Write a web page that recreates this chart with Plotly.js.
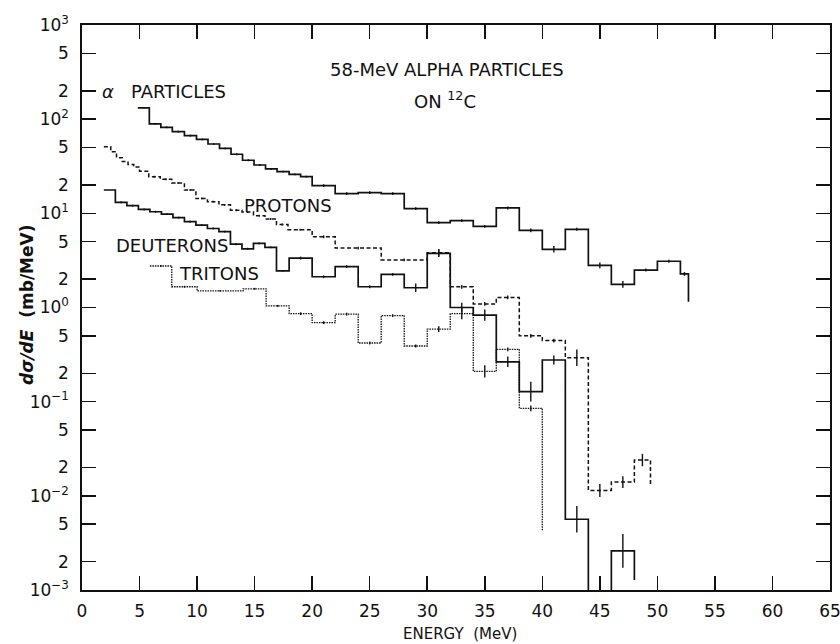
<!DOCTYPE html>
<html>
<head>
<meta charset="utf-8">
<script src="https://cdn.plot.ly/plotly-3.0.1.min.js"></script>
<style>html,body{margin:0;padding:0;background:#fff;}#chart{width:840px;height:644px;}</style>
</head>
<body>
<div id="chart"></div>
<script>
// ---- Data (bin edges in MeV, values in mb/MeV) ----
const alphaEdges = [4.85,5.85,6.85,7.85,8.9,9.95,10.95,11.95,12.95,13.95,14.95,15.95,16.95,18,19,20,22,24,26,28,30,32,34,36,38,40,42,44,46,48,50,52,52.7];
const alphaValues = [132,89,82,73.6,66.8,61,54.5,49,42.4,36.6,32.6,29.6,27.7,25.9,24.5,19.7,16.2,16.6,16.2,11.2,7.96,8.35,7.28,11.4,6.6,4.15,6.77,2.8,1.76,2.5,3.1,2.27];
const alphaEnd = 1.15;
const alphaErr = [0,0.01,0.01,0.01,0.01,0.01,0.01,0.01,0.01,0.01,0.01,0.01,0.01,0.01,0.01,0.015,0.015,0.015,0.015,0.015,0.015,0.015,0.015,0.015,0.02,0.035,0.015,0.03,0.035,0.015,0.015,0.02];

const protonEdges = [1.9,2.5,3.0,3.5,4.0,4.5,5.0,5.8,6.8,7.8,8.9,9.9,10.9,11.9,12.9,13.9,14.9,15.9,16.9,17.9,20,22,26,30,32,34,36,38,40,42,44,46,48,49.4];
const protonValues = [51,45,39,35.5,33,31,28,24.5,23,21,17.7,14.4,13.3,12.3,10.8,10.3,9.45,8.7,7.6,6.7,5.65,4.28,3.2,3.82,1.66,1.09,1.28,0.50,0.445,0.293,0.0114,0.0140,0.024];
const protonEnd = 0.013;
const protonErr = [0,0,0,0,0,0,0,0.01,0.01,0.01,0.01,0.01,0.01,0.01,0.01,0.01,0.01,0.01,0.01,0.01,0.015,0.015,0.015,0.04,0.02,0.02,0.02,0.02,0.02,0.088,0.07,0.062,0.066];

const deuteronEdges = [1.9,2.9,3.9,4.9,5.9,6.9,7.9,8.9,9.9,10.9,11.9,12.9,13.9,14.9,15.9,16.9,18,20,22,24,26,28,30,32,34,36,38,40,42,44,46,48];
const deuteronValues = [17.7,13.1,12.05,11.0,10.4,9.8,9.0,8.15,7.5,6.9,6.4,4.7,4.2,4.8,4.35,2.45,3.35,2.12,2.72,1.66,2.25,1.62,3.76,1.0,0.83,0.265,0.128,0.277,0.00564,0.0001,0.0026];
const deuteronEnd = 0.00128;
const deuteronErr = [0,0.01,0.01,0.01,0.01,0.01,0.01,0.01,0.01,0.01,0.01,0.01,0.01,0.01,0.01,0.01,0.015,0.015,0.015,0.015,0.015,0.045,0.04,0.05,0.06,0.056,0.105,0.048,0.14,0,0.18];

const tritonEdges = [5.9,7.8,10,14,16,18,20,22,24,26,28,30,32,34,36,38,40];
const tritonValues = [2.76,1.66,1.50,1.58,1.04,0.86,0.69,0.85,0.42,0.82,0.39,0.59,0.86,0.21,0.36,0.085];
const tritonEnd = 0.0042;
const tritonErr = [0.01,0.01,0.01,0.01,0.01,0.015,0.015,0.015,0.015,0.015,0.015,0.03,0.06,0.065,0.02,0.03];

const xTicks = [0,5,10,15,20,25,30,35,40,45,50,55,60,65];
const decades = [-3,-2,-1,0,1,2,3];

// ---- Build traces ----
function stepTrace(edges, values, endVal, dash, width) {
  const x = edges.slice(0, values.length).concat([edges[values.length], edges[values.length]]);
  const y = values.concat([values[values.length-1], endVal]);
  return {x, y, type:'scatter', mode:'lines', line:{shape:'hv', color:'#111', width:width, dash:dash}, hoverinfo:'skip', showlegend:false};
}
function errTrace(edges, values, errs) {
  const x = [], y = [], up = [], dn = [];
  values.forEach((v, i) => {
    if (!errs[i]) return;
    x.push((edges[i] + edges[i+1]) / 2);
    y.push(v);
    up.push(v * (Math.pow(10, errs[i]) - 1));
    dn.push(v * (1 - Math.pow(10, -errs[i])));
  });
  return {x, y, type:'scatter', mode:'markers', marker:{size:1, color:'rgba(0,0,0,0)'},
    error_y:{type:'data', symmetric:false, array:up, arrayminus:dn, width:0, thickness:1.4, color:'#111'},
    hoverinfo:'skip', showlegend:false};
}

const traces = [
  stepTrace(alphaEdges, alphaValues, alphaEnd, 'solid', 1.7),
  stepTrace(protonEdges, protonValues, protonEnd, '4px,2.5px', 1.5),
  stepTrace(deuteronEdges, deuteronValues, deuteronEnd, 'solid', 1.7),
  stepTrace(tritonEdges, tritonValues, tritonEnd, '1.5px,1px', 1.3),
  errTrace(alphaEdges, alphaValues, alphaErr),
  errTrace(protonEdges, protonValues, protonErr),
  errTrace(deuteronEdges, deuteronValues, deuteronErr),
  errTrace(tritonEdges, tritonValues, tritonErr)
];

const yTickVals = [], yTickText = [];
decades.forEach(d => {
  yTickVals.push(Math.pow(10, d)); yTickText.push('10<sup>' + (d < 0 ? '\u2212' + (-d) : d) + '</sup>');
  if (d < 3) {
    yTickVals.push(2 * Math.pow(10, d)); yTickText.push('2');
    yTickVals.push(5 * Math.pow(10, d)); yTickText.push('5');
  }
});

const font = 'DejaVu Sans, Arial, sans-serif';
const L = 82, R = 830, T = 25, B = 590;
function px(xp) { return (xp - L) / (R - L); }
function py(yp) { return (B - yp) / (B - T); }
function label(text, xp, yp, size, extra) {
  return Object.assign({text: text, x: px(xp), y: py(yp), xref: 'paper', yref: 'paper',
    xanchor: 'center', yanchor: 'middle', showarrow: false, font: {size: size, family: font, color: '#111'}}, extra || {});
}

const layout = {
  width: 840, height: 644,
  margin: {l: L, r: 840 - R, t: T, b: 644 - B},
  paper_bgcolor: '#fff', plot_bgcolor: '#fff',
  font: {family: font, color: '#111', size: 16},
  showlegend: false,
  xaxis: {
    range: [0, 65], tickvals: xTicks, ticktext: xTicks.map(String),
    ticks: 'inside', ticklen: 14, tickwidth: 1.6, tickcolor: '#111',
    showline: true, linecolor: '#111', linewidth: 1.7, mirror: 'ticks',
    showgrid: false, zeroline: false, ticklabeloverflow: 'allow',
    tickfont: {size: 17, family: font}, ticklabelstandoff: 5
  },
  yaxis: {
    type: 'log', range: [-3, 3], tickvals: yTickVals, ticktext: yTickText,
    ticks: 'inside', ticklen: 14, tickwidth: 1.6, tickcolor: '#111',
    showline: true, linecolor: '#111', linewidth: 1.7, mirror: 'ticks',
    showgrid: false, zeroline: false, ticklabeloverflow: 'allow',
    tickfont: {size: 17, family: font}, ticklabelstandoff: 8
  },
  annotations: [
    label('58-MeV ALPHA PARTICLES', 447, 69, 18),
    label('ON <sup>12</sup>C', 445, 100, 18),
    label('<i>\u03b1</i>   PARTICLES', 100, 92, 18, {xanchor: 'left'}),
    label('PROTONS', 288, 205, 18),
    label('DEUTERONS', 172, 245, 18),
    label('TRITONS', 219, 273, 18),
    label('ENERGY  (MeV)', 460, 634, 15),
    label('<i>d\u03c3/dE</i>  (mb/MeV)', 27, 305, 17, {textangle: -90, font: {size: 17, family: font, color: '#111', weight: 'bold'}})
  ]
};

Plotly.newPlot('chart', traces, layout, {staticPlot: true, displayModeBar: false});
</script>
</body>
</html>
